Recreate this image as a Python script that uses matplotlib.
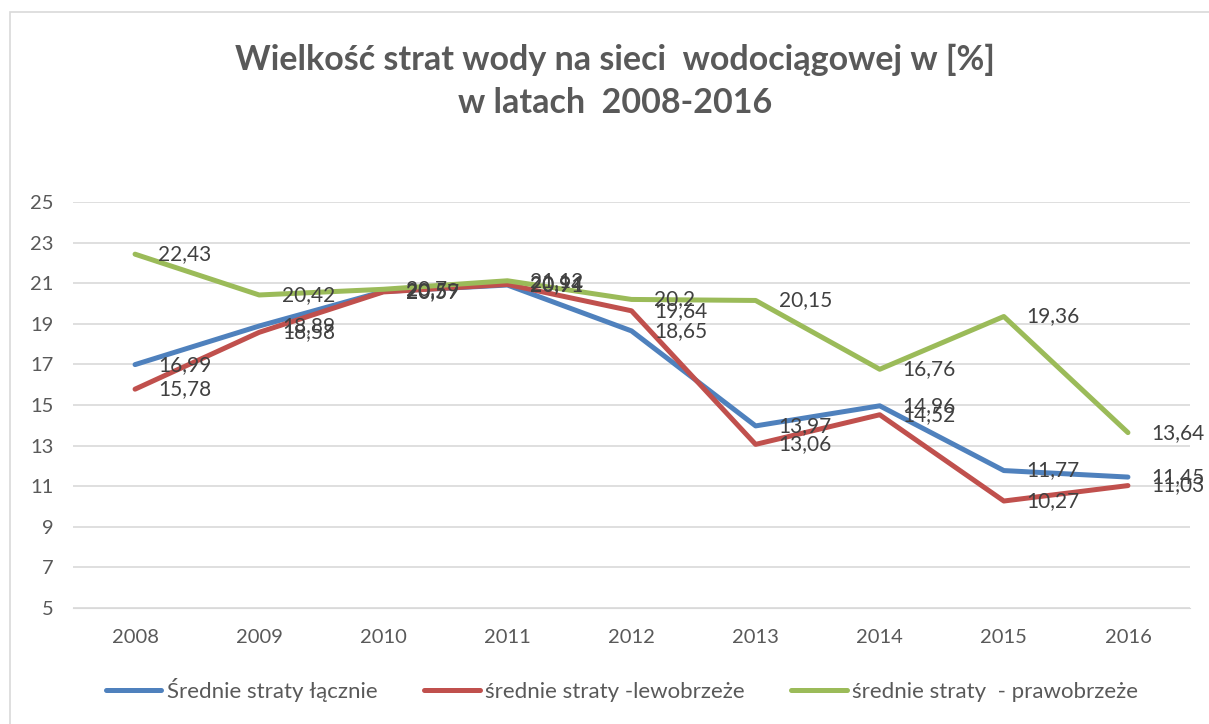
import matplotlib
matplotlib.use('Agg')
import matplotlib.pyplot as plt
from matplotlib.patches import Rectangle

plt.rcParams['font.family'] = ['Lato', 'DejaVu Sans']

# ---------------------------------------------------------------------------
# Data
# ---------------------------------------------------------------------------
years = ['2008', '2009', '2010', '2011', '2012', '2013', '2014', '2015', '2016']
lacznie = [16.99, 18.89, 20.59, 20.91, 18.65, 13.97, 14.96, 11.77, 11.45]
lewobrzeze = [15.78, 18.58, 20.57, 20.94, 19.64, 13.06, 14.52, 10.27, 11.03]
prawobrzeze = [22.43, 20.42, 20.7, 21.12, 20.2, 20.15, 16.76, 19.36, 13.64]

series = [
    ('Średnie straty łącznie', lacznie, '#4F81BD'),
    ('średnie straty -lewobrzeże', lewobrzeze, '#C0504D'),
    ('średnie straty  - prawobrzeże', prawobrzeze, '#9BBB59'),
]

W, H = 1209, 724
fig = plt.figure(figsize=(W / 100, H / 100), dpi=100)
ax = fig.add_axes([73 / W, 1 - 608 / H, (1190 - 73) / W, (608 - 202) / H])

x = list(range(len(years)))
for name, vals, col in series:
    ax.plot(x, vals, color=col, lw=3.6, label=name, solid_capstyle='round')
    for xi, v in zip(x, vals):
        lbl = f'{v:g}'.replace('.', ',')
        ax.annotate(lbl, (xi, v), xytext=(16.5, 0), textcoords='offset points',
                    va='center', ha='left', fontsize=15, color='#404040')

ax.set_xlim(-0.5, len(years) - 0.5)
ax.set_ylim(5, 25)
ax.set_yticks(range(5, 26, 2))
ax.set_xticks(x)
ax.set_xticklabels(years)
ax.grid(axis='y', color='#D9D9D9', lw=1.2)
ax.set_axisbelow(True)
for s in ax.spines.values():
    s.set_visible(False)
ax.spines['bottom'].set_visible(True)
ax.spines['bottom'].set_color('#D9D9D9')
ax.tick_params(length=0, labelsize=14.5, colors='#595959')
ax.tick_params(axis='x', pad=15)
ax.tick_params(axis='y', pad=14)

fig.text(615 / W, 1 - 60 / H, 'Wielkość strat wody na sieci  wodociągowej w [%]',
         ha='center', va='center', fontsize=24.5, fontweight='bold', color='#595959')
fig.text(615 / W, 1 - 103 / H, 'w latach  2008-2016',
         ha='center', va='center', fontsize=24.5, fontweight='bold', color='#595959')

fig.legend(loc='center', bbox_to_anchor=(622 / W, 1 - 690 / H), ncol=3,
           frameon=False, fontsize=16, handlelength=2.5, handletextpad=0.25,
           columnspacing=2.1, labelcolor='#595959')

fig.patches.append(Rectangle((10 / W, -0.01), 1.1, 1 - 12 / H + 0.01, transform=fig.transFigure,
                             fill=False, edgecolor='#D9D9D9', lw=1.2))

fig.savefig('out.png', dpi=100)
